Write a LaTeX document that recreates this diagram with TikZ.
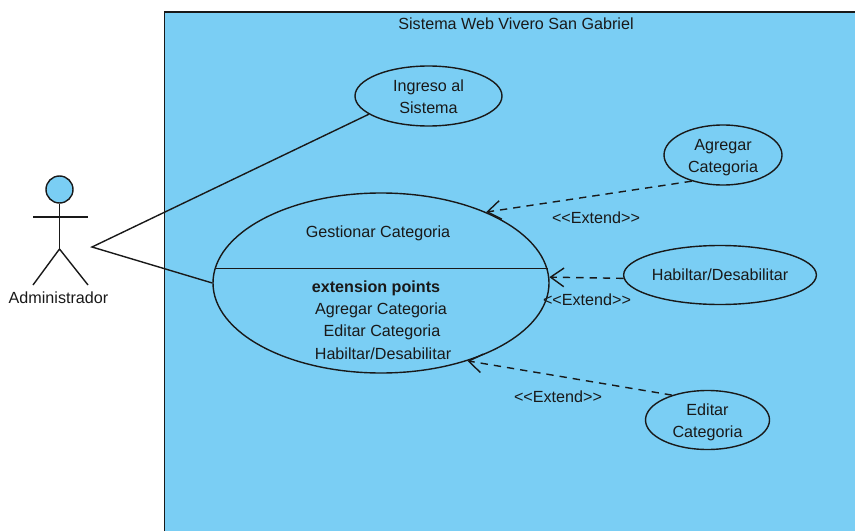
\documentclass[tikz,border=0pt]{standalone}
\usepackage{fontspec}
\setmainfont{Liberation Sans}
\usetikzlibrary{shapes.geometric,arrows.meta}
\definecolor{sysblue}{RGB}{122,206,244}
\definecolor{inkc}{RGB}{25,25,25}
\newcommand\lowertext[2]{\raisebox{-#1}[\height][\depth]{#2}}
\tikzset{
  line/.style={draw=inkc,line width=1.05pt},
  usecase/.style={ellipse,line,fill=sysblue,inner sep=0pt,align=center,font=\fontsize{12.1}{16.5}\selectfont,text=inkc},
  label/.style={inner sep=0pt,font=\fontsize{12.1}{16.5}\selectfont,text=inkc},
  extend/.style={line,dash pattern=on 5.5pt off 4.5pt,-{Straight Barb[length=10pt,width=14pt,line width=1.05pt]}}
}
\begin{document}
\begin{tikzpicture}[x=0.75pt,y=-0.75pt]
\useasboundingbox (0,0) rectangle (855,531);
% system boundary
\fill[sysblue] (164.5,12) rectangle (855,531);
\draw[line] (164.5,531) -- (164.5,12) -- (855,12);
\node[label] (title) at (516,24) {Sistema Web Vivero San Gabriel};
% actor
\node[circle,line,fill=sysblue,inner sep=0pt,minimum size=20.25pt] (head) at (59.5,189.5) {};
\coordinate (hip) at (59.5,249);
\coordinate (armL) at (33,217);
\coordinate (armR) at (88,217);
\coordinate (footL) at (33,285);
\coordinate (footR) at (88,285);
\draw[line] (head.south) -- (hip);
\draw[line] (armL) -- (armR);
\draw[line] (footL) -- (hip) -- (footR);
\node[label] (admin) at (58.5,298) {Administrador};
% use cases
\node[usecase,minimum width=110.25pt,minimum height=45pt] (ingreso) at (428.5,96) {\lowertext{0.75pt}{Ingreso al}\\\lowertext{0.75pt}{Sistema}};
\node[usecase,minimum width=88.5pt,minimum height=45pt] (agregar) at (723,155) {\lowertext{2pt}{Agregar}\\\lowertext{2pt}{Categoria}};
\node[usecase,minimum width=142pt,minimum height=44.25pt] (habilitar) at (720,275) {Habiltar/Desabilitar};
\node[usecase,minimum width=93pt,minimum height=44.25pt] (editar) at (707.5,420) {\lowertext{1.5pt}{Editar}\\\lowertext{1.5pt}{Categoria}};
\node[usecase,minimum width=252pt,minimum height=135pt] (gest) at (381,283) {};
\draw[line] (gest.175) -- (gest.5);
\node[label] (g0) at (378,233) {Gestionar Categoria};
\node[label,font=\fontsize{12.1}{16.5}\selectfont\bfseries] (g1) at (376,288) {extension points};
\node[label] (g2) at (381,310) {Agregar Categoria};
\node[label] (g3) at (382,332) {Editar Categoria};
\node[label] (g4) at (383,354) {Habiltar/Desabilitar};
% associations
\coordinate (assoc) at (92,247);
\draw[line] (ingreso.197) -- (assoc) -- (gest.180);
% extends
\draw[extend] (agregar.220) -- (gest.34);
\draw[extend] (habilitar.182) -- (gest.2);
\draw[extend] (editar.145) -- (gest.-42);
\node[label] (e1) at (596,218) {<{}<Extend>{}>};
\node[label] (e2) at (587,299.5) {<{}<Extend>{}>};
\node[label] (e3) at (558,397) {<{}<Extend>{}>};
\end{tikzpicture}
\end{document}
